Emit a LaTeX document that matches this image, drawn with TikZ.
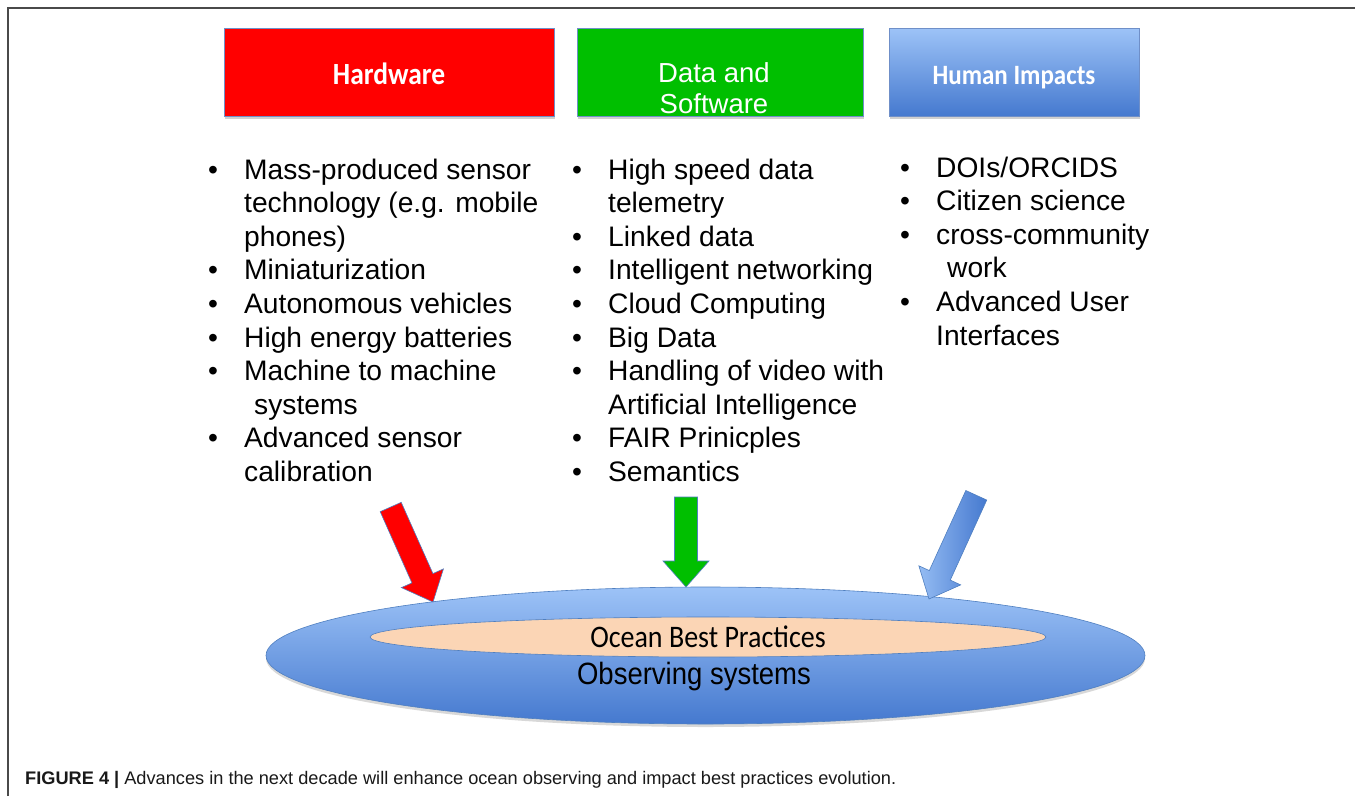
\documentclass[tikz,border=0pt]{standalone}
\usepackage{fontspec}
\setmainfont{Liberation Sans}
\newfontfamily\carlito{Carlito}
\usetikzlibrary{shapes.geometric,shadows}
\definecolor{hdrline}{HTML}{6F8FC8}
\definecolor{hwred}{HTML}{FF0000}
\definecolor{dsgreen}{HTML}{00BF00}
\definecolor{bluetop}{HTML}{9DC3F7}
\definecolor{bluebot}{HTML}{4579CF}
\definecolor{peach}{HTML}{FBD5B5}
\definecolor{edgeblue}{HTML}{4F7FC0}
\definecolor{framegray}{HTML}{4A4A4A}
\newcommand\bl{\makebox[36pt][l]{\textbullet}}
\newcommand\ind{\hspace*{36pt}}
\newcommand\tall[1]{\scalebox{1}[1.12]{#1}}
\newcommand\blockarrow[4]{%
  \begin{scope}[shift={(#1)}, rotate=#2]
    \path[#4] (0,0) -- (-23,-26) -- (-11.5,-26) -- (-11.5,-#3) -- (11.5,-#3) -- (11.5,-26) -- (23,-26) -- cycle;
  \end{scope}}
\begin{document}
\begin{tikzpicture}[x=1pt,y=-1pt,
  hdr/.style={draw=hdrline, line width=0.8pt, minimum height=88pt, inner sep=0pt,
    drop shadow={shadow xshift=1pt, shadow yshift=-2.5pt, opacity=0.3, fill=black!60}},
  hdrtext/.style={text=white, inner sep=0pt, anchor=base},
  listtext/.style={anchor=base west, inner sep=0pt, font=\fontsize{28.2}{33.6}\selectfont},
  arrowedge/.style={draw=edgeblue, line width=0.6pt}
]
\useasboundingbox (0,0) rectangle (1355,796);
\fill[white] (0,0) rectangle (1355,796);
% frame
\draw[framegray, line width=1.4pt] (8,796) -- (8,8) -- (1355,8);

% header boxes
\node[hdr, fill=hwred, minimum width=330pt] (hw) at (389,72) {};
\node[hdrtext, font=\carlito\bfseries\fontsize{27.5}{30}\selectfont] (hwt) at (389,84) {\tall{Hardware}};
\node[hdr, fill=dsgreen, minimum width=286pt] (ds) at (720,72) {};
\node[hdrtext, font=\fontsize{27.5}{31}\selectfont] (dst) at (714,82)
  {\begin{tabular}[t]{@{}c@{}}Data and\\Software\end{tabular}};
\node[hdr, top color=bluetop, bottom color=bluebot, minimum width=250pt] (hi) at (1014,72) {};
\node[hdrtext, font=\carlito\bfseries\fontsize{25}{30}\selectfont] (hit) at (1014,84) {\tall{Human Impacts}};

% bullet lists
\node[listtext] (hwlist) at (208,179) {\begin{tabular}[t]{@{}l@{}}
\bl Mass-produced sensor\\
\ind technology (e.g. mobile\\
\ind phones)\\
\bl Miniaturization\\
\bl Autonomous vehicles\\
\bl High energy batteries\\
\bl Machine to machine\\
\ind\hspace*{10pt}systems\\
\bl Advanced sensor\\
\ind calibration
\end{tabular}};
\node[listtext] (dslist) at (572,179) {\begin{tabular}[t]{@{}l@{}}
\bl High speed data\\
\ind telemetry\\
\bl Linked data\\
\bl Intelligent networking\\
\bl Cloud Computing\\
\bl Big Data\\
\bl Handling of video with\\
\ind Artificial Intelligence\\
\bl FAIR Prinicples\\
\bl Semantics
\end{tabular}};
\node[listtext] (hilist) at (900,177) {\begin{tabular}[t]{@{}l@{}}
\bl DOIs/ORCIDS\\
\bl Citizen science\\
\bl cross-community\\
\ind\hspace*{11pt}work\\
\bl Advanced User\\
\ind Interfaces
\end{tabular}};

% ellipses
\node[ellipse, draw=edgeblue, line width=0.6pt, top color=bluetop, bottom color=bluebot,
  minimum width=879pt, minimum height=137pt, inner sep=0pt,
  drop shadow={shadow xshift=0pt, shadow yshift=-3pt, opacity=0.25, fill=black!60}] (obs) at (705.5,655.5) {};
\node[ellipse, draw=edgeblue, line width=0.6pt, fill=peach,
  minimum width=676pt, minimum height=40pt, inner sep=0pt] (obp) at (708,637) {};
\node[inner sep=0pt, font=\carlito\fontsize{28}{30}\selectfont] (obpt) at (708,637) {\tall{Ocean Best Practices}};
\node[inner sep=0pt, font=\fontsize{27.5}{30}\selectfont] (obst) at (694,677) {\tall{Observing systems}};

% block arrows
\coordinate (rtip) at (433,602);
\coordinate (gtip) at (686,587);
\coordinate (btip) at (929,599);
\blockarrow{rtip}{24}{104}{fill=hwred, arrowedge}
\blockarrow{gtip}{0}{90}{fill=dsgreen, arrowedge}
\blockarrow{btip}{-24.5}{114}{left color=bluetop!90!bluebot, right color=bluebot, arrowedge}

% caption
\node[anchor=base west, inner sep=0pt, font=\fontsize{18.2}{20}\selectfont, text=black!90] (cap) at (25,784)
  {\textbf{FIGURE 4 |} Advances in the next decade will enhance ocean observing and impact best practices evolution.};
\end{tikzpicture}
\end{document}
